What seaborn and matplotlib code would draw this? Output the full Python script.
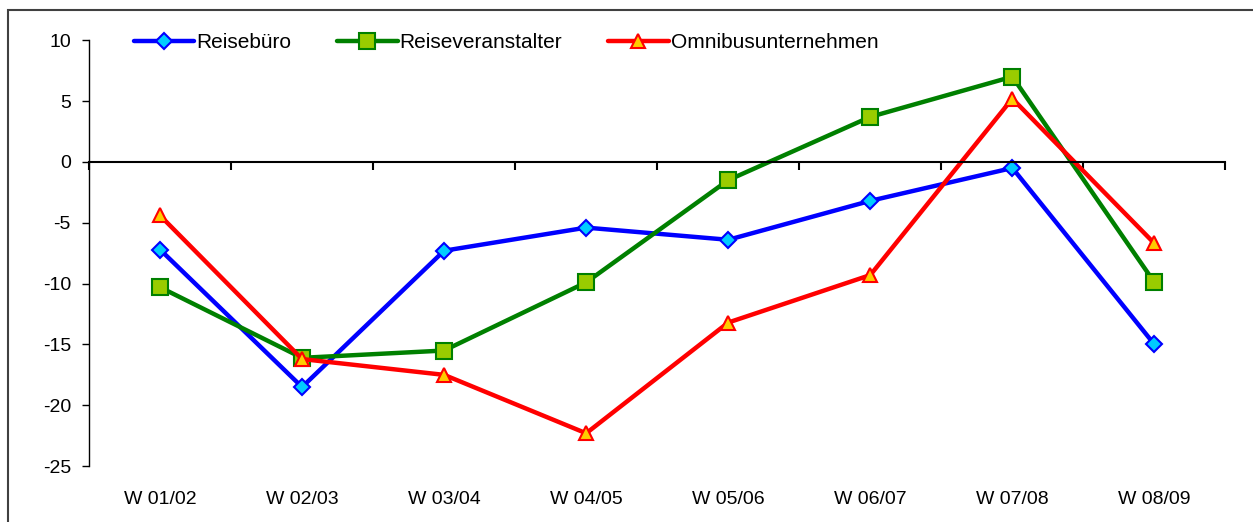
import pandas as pd
import matplotlib.pyplot as plt
import matplotlib.patches as mpatches
import seaborn as sns

# winter seasons and index values per branch
seasons = ['W 01/02', 'W 02/03', 'W 03/04', 'W 04/05', 'W 05/06', 'W 06/07', 'W 07/08', 'W 08/09']
reisebuero = [-7.2, -18.5, -7.3, -5.4, -6.4, -3.2, -0.5, -15.0]
veranstalter = [-10.3, -16.1, -15.5, -9.9, -1.5, 3.7, 7.0, -9.9]
omnibus = [-4.4, -16.2, -17.5, -22.3, -13.2, -9.3, 5.2, -6.7]

df = pd.DataFrame({'Saison': seasons, 'Reisebüro': reisebuero,
                   'Reiseveranstalter': veranstalter, 'Omnibusunternehmen': omnibus})

sns.set_style('white')
plt.rcParams['font.family'] = ['Liberation Sans', 'DejaVu Sans']
plt.rcParams['axes.unicode_minus'] = False
plt.rcParams['text.color'] = 'black'

fig = plt.figure(figsize=(12.53, 5.22), dpi=100)
ax = fig.add_axes([0.071, 0.107, 0.907, 0.816])

# series styles: column, line colour, marker, marker fill, marker size
styles = [
    ('Reisebüro', '#0000FF', 'D', '#00CCFF', 8),
    ('Reiseveranstalter', '#008000', 's', '#99CC00', 11),
    ('Omnibusunternehmen', '#FF0000', '^', '#FFCC00', 10),
]
for col, c, m, fc, ms in styles:
    sns.lineplot(data=df, x='Saison', y=col, ax=ax, color=c, lw=3.2, marker=m,
                 markersize=ms, markerfacecolor=fc, markeredgecolor=c,
                 markeredgewidth=1.5, label=col)

ax.set_ylim(-25, 10)
ax.set_xlim(-0.5, len(seasons) - 0.5)
ax.set_yticks(range(-25, 11, 5))
ax.set_xlabel('')
ax.set_ylabel('')

# x axis line at zero with category boundary ticks
ax.spines['top'].set_visible(False)
ax.spines['right'].set_visible(False)
ax.spines['bottom'].set_position(('data', 0))
ax.spines['bottom'].set_linewidth(1.5)
ax.spines['bottom'].set_color('black')
ax.spines['left'].set_color('black')
ax.spines['left'].set_linewidth(1)
ax.set_xticks([i - 0.5 for i in range(len(seasons) + 1)])
ax.set_xticklabels([])
ax.tick_params(axis='x', direction='out', length=6, width=1.5, color='black', bottom=True)
ax.tick_params(axis='y', direction='out', length=5, width=1, color='black', left=True,
               labelsize=14, pad=8, labelcolor='black')

# category labels below the plot
sec = ax.secondary_xaxis('bottom')
sec.spines['bottom'].set_visible(False)
sec.set_xticks(range(len(seasons)))
sec.set_xticklabels(seasons)
sec.tick_params(length=0, labelsize=14, pad=18, labelcolor='black')

ax.legend(loc='upper left', bbox_to_anchor=(0.023, 1.06), ncol=3, frameon=False,
          fontsize=15, handlelength=2.9, handletextpad=0.1, columnspacing=2.2)

# outer frame around the chart
fig.patches.append(mpatches.Rectangle((0.0065, -0.05), 1.1, 1.031, transform=fig.transFigure,
                                      fill=False, edgecolor='#404040', lw=1.5))

fig.savefig('out.png', dpi=100)
